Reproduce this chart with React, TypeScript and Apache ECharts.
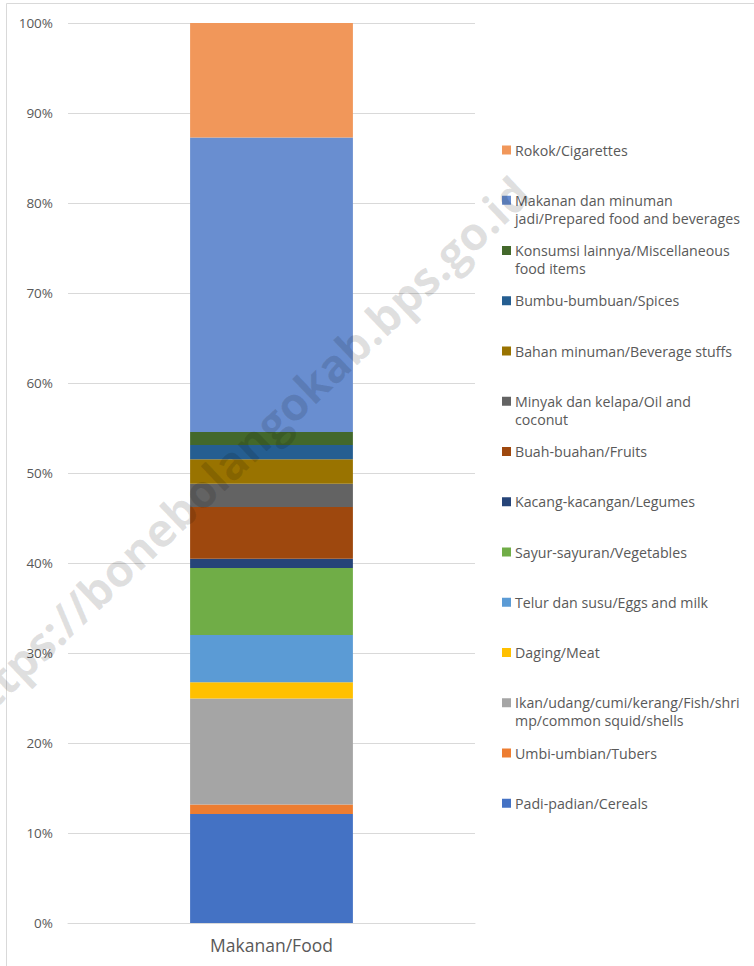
import React, { useEffect, useRef } from "react";
import * as echarts from "echarts";

const categories = ["Makanan/Food"];

const seriesNames = [
  "Padi-padian/Cereals",
  "Umbi-umbian/Tubers",
  "Ikan/udang/cumi/kerang/Fish/shrimp/common squid/shells",
  "Daging/Meat",
  "Telur dan susu/Eggs and milk",
  "Sayur-sayuran/Vegetables",
  "Kacang-kacangan/Legumes",
  "Buah-buahan/Fruits",
  "Minyak dan kelapa/Oil and coconut",
  "Bahan minuman/Beverage stuffs",
  "Bumbu-bumbuan/Spices",
  "Konsumsi lainnya/Miscellaneous food items",
  "Makanan dan minuman jadi/Prepared food and beverages",
  "Rokok/Cigarettes",
];

const legendLabels = [
  "Padi-padian/Cereals",
  "Umbi-umbian/Tubers",
  "Ikan/udang/cumi/kerang/Fish/shri\nmp/common squid/shells",
  "Daging/Meat",
  "Telur dan susu/Eggs and milk",
  "Sayur-sayuran/Vegetables",
  "Kacang-kacangan/Legumes",
  "Buah-buahan/Fruits",
  "Minyak dan kelapa/Oil and\ncoconut",
  "Bahan minuman/Beverage stuffs",
  "Bumbu-bumbuan/Spices",
  "Konsumsi lainnya/Miscellaneous\nfood items",
  "Makanan dan minuman\njadi/Prepared food and beverages",
  "Rokok/Cigarettes",
];

const values = [12.1, 1.07, 11.77, 1.82, 5.25, 7.44, 1.03, 5.74, 2.59, 2.71, 1.59, 1.44, 32.73, 12.72];

const colors = [
  "#4472C4",
  "#ED7D31",
  "#A5A5A5",
  "#FFC000",
  "#5B9BD5",
  "#70AD47",
  "#264478",
  "#9E480E",
  "#636363",
  "#997300",
  "#255E91",
  "#43682B",
  "#698ED0",
  "#F1975A",
];

const watermark = "https://bonebolangokab.bps.go.id";

const FONT = "'Open Sans', 'Noto Sans', sans-serif";
const TEXT_COLOR = "#595959";

export default function App() {
  const ref = useRef<HTMLDivElement>(null);

  useEffect(() => {
    if (!ref.current) return;
    const chart = echarts.init(ref.current, undefined, { renderer: "svg" });

    const n = seriesNames.length;
    const legendGraphics: any[] = [];
    for (let k = 0; k < n; k++) {
      const i = n - 1 - k; // top-to-bottom order
      const yc = 150 + k * 50.25;
      legendGraphics.push({
        type: "rect",
        shape: { x: 502, y: yc - 4.5, width: 9, height: 9 },
        style: { fill: colors[i] },
        z: 10,
      });
      legendGraphics.push({
        type: "text",
        x: 515,
        y: yc - 9,
        style: {
          text: legendLabels[i],
          font: `14.2px ${FONT}`,
          fill: TEXT_COLOR,
          verticalAlign: "top",
          align: "left",
          lineHeight: 18,
        },
        z: 10,
      });
    }

    chart.setOption({
      animation: false,
      backgroundColor: "#ffffff",
      textStyle: { fontFamily: FONT },
      grid: { left: 68, right: 279, top: 23, bottom: 43, containLabel: false },
      xAxis: {
        type: "category",
        data: categories,
        axisLine: { show: true, lineStyle: { color: "#d9d9d9" } },
        axisTick: { show: false },
        axisLabel: { color: TEXT_COLOR, fontSize: 17.5, margin: 13, fontFamily: FONT },
      },
      yAxis: {
        type: "value",
        min: 0,
        max: 100,
        interval: 10,
        axisLine: { show: false },
        axisTick: { show: false },
        axisLabel: { color: TEXT_COLOR, fontSize: 13.5, margin: 15, formatter: "{value}%", fontFamily: FONT },
        splitLine: { lineStyle: { color: "#d9d9d9", width: 1 } },
      },
      series: seriesNames.map((name, i) => ({
        name,
        type: "bar",
        stack: "total",
        barWidth: "40%",
        data: [values[i]],
        itemStyle: { color: colors[i] },
      })),
      graphic: [
        {
          type: "rect",
          shape: { x: 6.5, y: 3.5, width: 760, height: 980 },
          style: { fill: "none", stroke: "#d9d9d9", lineWidth: 1 },
          z: 1,
        },
        ...legendGraphics,
        {
          type: "text",
          x: 240,
          y: 452,
          rotation: 0.76,
          style: {
            text: watermark,
            font: `bold 46px ${FONT}`,
            fill: "rgba(0,0,0,0.12)",
            align: "center",
            verticalAlign: "middle",
          },
          z: 100,
          silent: true,
        },
      ],
    });

    return () => chart.dispose();
  }, []);

  return (
    <div
      ref={ref}
      style={{ position: "fixed", left: 0, top: 0, width: 754, height: 966, background: "#fff" }}
    />
  );
}
